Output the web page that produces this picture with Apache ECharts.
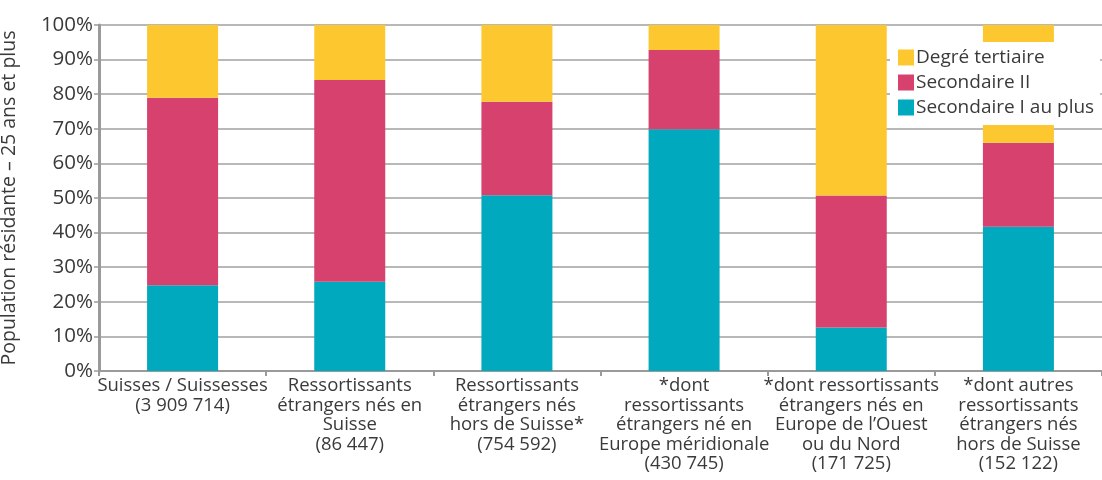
<!DOCTYPE html>
<html>
<head>
<meta charset="utf-8">
<script src="https://cdn.jsdelivr.net/npm/echarts@6/dist/echarts.min.js"></script>
<style>
  html, body { margin: 0; padding: 0; background: #fff; }
  #chart { width: 1102px; height: 480px; }
</style>
</head>
<body>
<div id="chart"></div>
<script>
// catégories (axe x)
const categories = [
  'Suisses / Suissesses\n(3 909 714)',
  'Ressortissants\nétrangers nés en\nSuisse\n(86 447)',
  'Ressortissants\nétrangers nés\nhors de Suisse*\n(754 592)',
  '*dont\nressortissants\nétrangers né en\nEurope méridionale\n(430 745)',
  '*dont ressortissants\nétrangers nés en\nEurope de l’Ouest\nou du Nord\n(171 725)',
  '*dont autres\nressortissants\nétrangers nés\nhors de Suisse\n(152 122)'
];

// parts en %
const secondaireI = [24.8, 25.8, 50.8, 69.9, 12.6, 41.7];
const secondaireII = [54.2, 58.3, 27.0, 22.9, 38.1, 24.3];
const tertiaire = [21.0, 15.9, 22.2, 7.2, 49.3, 34.0];

const yTicks = [0, 10, 20, 30, 40, 50, 60, 70, 80, 90, 100];

const fontFamily = '"Open Sans", "Noto Sans", sans-serif';
const textColor = '#3a3a3a';

const chart = echarts.init(document.getElementById('chart'));

chart.setOption({
  animation: false,
  textStyle: { fontFamily: fontFamily },
  grid: { left: 99, right: 0, top: 25, bottom: 109, outerBoundsMode: 'none' },
  legend: {
    orient: 'vertical',
    left: 890,
    top: 42,
    padding: [6, 6, 8, 8],
    backgroundColor: '#fff',
    itemWidth: 16,
    itemHeight: 16,
    itemGap: 6,
    icon: 'rect',
    data: ['Degré tertiaire', 'Secondaire II', 'Secondaire I au plus'],
    textStyle: { fontSize: 19, color: textColor, fontFamily: fontFamily, padding: [0, 0, 0, -3] }
  },
  xAxis: {
    type: 'category',
    data: categories,
    axisLine: { lineStyle: { color: '#9a9a9a', width: 2 } },
    axisTick: { show: true, length: 5, lineStyle: { color: '#9a9a9a', width: 2 } },
    axisLabel: {
      interval: 0,
      fontSize: 18.5,
      lineHeight: 19.5,
      color: textColor,
      margin: 5,
      fontFamily: fontFamily
    }
  },
  yAxis: {
    type: 'value',
    min: yTicks[0],
    max: yTicks[yTicks.length - 1],
    interval: 10,
    name: 'Population résidante – 25 ans et plus',
    nameLocation: 'middle',
    nameGap: 80,
    nameTextStyle: { fontSize: 19.5, color: textColor, fontFamily: fontFamily },
    axisLine: { show: true, lineStyle: { color: '#9a9a9a', width: 3 } },
    axisTick: { show: true, length: 5, lineStyle: { color: '#9a9a9a', width: 1.5 } },
    axisLabel: {
      formatter: '{value}%',
      fontSize: 20.5,
      color: textColor,
      margin: 6,
      fontFamily: fontFamily
    },
    splitLine: { lineStyle: { color: '#a0a0a0', width: 1.5 } }
  },
  series: [
    {
      name: 'Secondaire I au plus',
      type: 'bar',
      stack: 'total',
      barWidth: 71,
      itemStyle: { color: '#00a9be' },
      data: secondaireI
    },
    {
      name: 'Secondaire II',
      type: 'bar',
      stack: 'total',
      barWidth: 71,
      itemStyle: { color: '#d6416e' },
      data: secondaireII
    },
    {
      name: 'Degré tertiaire',
      type: 'bar',
      stack: 'total',
      barWidth: 71,
      itemStyle: { color: '#fdc82f' },
      data: tertiaire
    }
  ]
});
</script>
</body>
</html>
